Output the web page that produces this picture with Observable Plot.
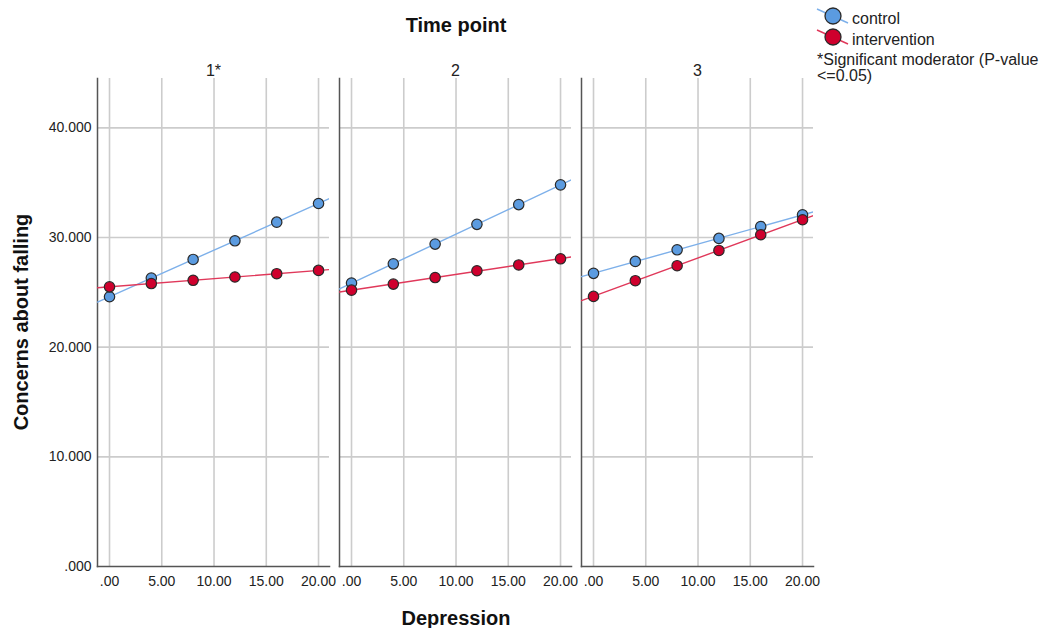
<!DOCTYPE html>
<html><head><meta charset="utf-8">
<script src="https://cdn.jsdelivr.net/npm/d3@7"></script>
<script src="https://cdn.jsdelivr.net/npm/@observablehq/plot@0.6"></script>
<style>
body{margin:0;background:#fff;}
#chart{position:relative;width:1050px;height:628px;}
</style>
</head><body><div id="chart"></div>
<script>
// ---- data ----
const timePoints = ["1", "2", "3"];
const timeLabels = ["1*", "2", "3"];
const depression = [0, 4, 8, 12, 16, 20];
const control1 = [24.6, 26.3, 28.0, 29.7, 31.4, 33.1];
const intervention1 = [25.5, 25.8, 26.1, 26.4, 26.7, 27.0];
const control2 = [25.85, 27.6, 29.4, 31.2, 33.0, 34.8];
const intervention2 = [25.2, 25.75, 26.35, 26.97, 27.5, 28.06];
const control3 = [26.73, 27.82, 28.88, 29.92, 31.0, 32.07];
const intervention3 = [24.63, 26.06, 27.43, 28.82, 30.25, 31.62];
const groups = ["control", "intervention"];
const yTicks = [0, 10, 20, 30, 40];
const xTicks = [0, 5, 10, 15, 20];
const legendNote = ["*Significant moderator (P-value", "<=0.05)"];

const fillColors = {control: "#5b9be0", intervention: "#cf002d"};
const lineColors = {control: "#7db0ea", intervention: "#e0385a"};

const series = {
  "1": {control: control1, intervention: intervention1},
  "2": {control: control2, intervention: intervention2},
  "3": {control: control3, intervention: intervention3}
};

const points = [];
for (const t of timePoints) for (const g of groups)
  series[t][g].forEach((v, i) => points.push({time: t, group: g, x: depression[i], y: v}));

const facetLabels = timePoints.map((t, i) => ({time: t, label: timeLabels[i]}));

const xDomain = [-1.15, 21.05];
const yDomain = [0, 44.5];

// least-squares fit lines, evaluated across the panel's x extent
const fitLines = [];
for (const t of timePoints) for (const g of groups) {
  const ys = series[t][g];
  const mx = d3.mean(depression), my = d3.mean(ys);
  const b = d3.sum(depression, (x, i) => (x - mx) * (ys[i] - my)) / d3.sum(depression, x => (x - mx) ** 2);
  const a = my - b * mx;
  for (const x of xDomain) fitLines.push({time: t, group: g, x, y: a + b * x});
}

const fmtY = d => d === 0 ? ".000" : d3.format(".3f")(d);
const fmtX = d => d === 0 ? ".00" : d3.format(".2f")(d);

const plot = Plot.plot({
  width: 1050, height: 628,
  marginLeft: 97, marginRight: 236, marginTop: 78, marginBottom: 62,
  style: {fontFamily: "'Liberation Sans', Arial, sans-serif", fontSize: "14px", color: "#222", background: "#fff"},
  fx: {domain: timePoints, paddingInner: 0.041, paddingOuter: 0, label: null, axis: null},
  x: {domain: xDomain, label: null},
  y: {domain: yDomain, label: null},
  marks: [
    Plot.gridX(xTicks, {stroke: "#cccccc", strokeOpacity: 1, strokeWidth: 1.6}),
    Plot.gridY(yTicks.filter(d => d > 0), {stroke: "#cccccc", strokeOpacity: 1, strokeWidth: 1.6}),
    Plot.frame({anchor: "left", stroke: "#555", strokeWidth: 1.5}),
    Plot.frame({anchor: "bottom", stroke: "#555", strokeWidth: 1.5}),
    Plot.axisY(yTicks, {tickSize: 0, tickPadding: 6, tickFormat: fmtY, fontSize: 14, label: null}),
    Plot.axisX(xTicks, {tickSize: 0, tickPadding: 10, tickFormat: fmtX, fontSize: 14, label: null}),
    Plot.text(facetLabels, {fx: "time", text: "label", frameAnchor: "top", dy: -14, fontSize: 16, fill: "#222"}),
    Plot.line(fitLines, {fx: "time", x: "x", y: "y", z: "group", stroke: d => lineColors[d.group], strokeWidth: 1.4, clip: true}),
    Plot.dot(points, {fx: "time", x: "x", y: "y", r: 5.2, fill: d => fillColors[d.group], stroke: "#2a2a2a", strokeWidth: 1.2})
  ]
});

const svg = d3.select(plot);
const font = "'Liberation Sans', Arial, sans-serif";
svg.append("text").attr("x", 456).attr("y", 32).attr("text-anchor", "middle")
  .attr("font-family", font).attr("font-size", 20).attr("font-weight", "bold").attr("fill", "#111").text("Time point");
svg.append("text").attr("x", 456).attr("y", 625).attr("text-anchor", "middle")
  .attr("font-family", font).attr("font-size", 20).attr("font-weight", "bold").attr("fill", "#111").text("Depression");
svg.append("text").attr("transform", "translate(28,322) rotate(-90)").attr("text-anchor", "middle")
  .attr("font-family", font).attr("font-size", 20).attr("font-weight", "bold").attr("fill", "#111").text("Concerns about falling");

// legend
const lg = svg.append("g").attr("text-anchor", "start");
groups.forEach((g, i) => {
  const cy = 16 + i * 21;
  lg.append("line").attr("x1", 817).attr("y1", cy - 7).attr("x2", 848).attr("y2", cy + 7)
    .attr("stroke", lineColors[g]).attr("stroke-width", 1.4);
  lg.append("circle").attr("cx", 833).attr("cy", cy).attr("r", 8)
    .attr("fill", fillColors[g]).attr("stroke", "#2a2a2a").attr("stroke-width", 1.3);
  lg.append("text").attr("x", 852).attr("y", cy + 8).attr("text-anchor", "start").attr("font-family", font).attr("font-size", 16)
    .attr("fill", "#222").text(g);
});
legendNote.forEach((s, i) => {
  lg.append("text").attr("x", 817).attr("y", 65 + i * 16).attr("text-anchor", "start").attr("font-family", font).attr("font-size", 16)
    .attr("fill", "#222").text(s);
});

document.getElementById("chart").appendChild(plot);
</script>
</body></html>
